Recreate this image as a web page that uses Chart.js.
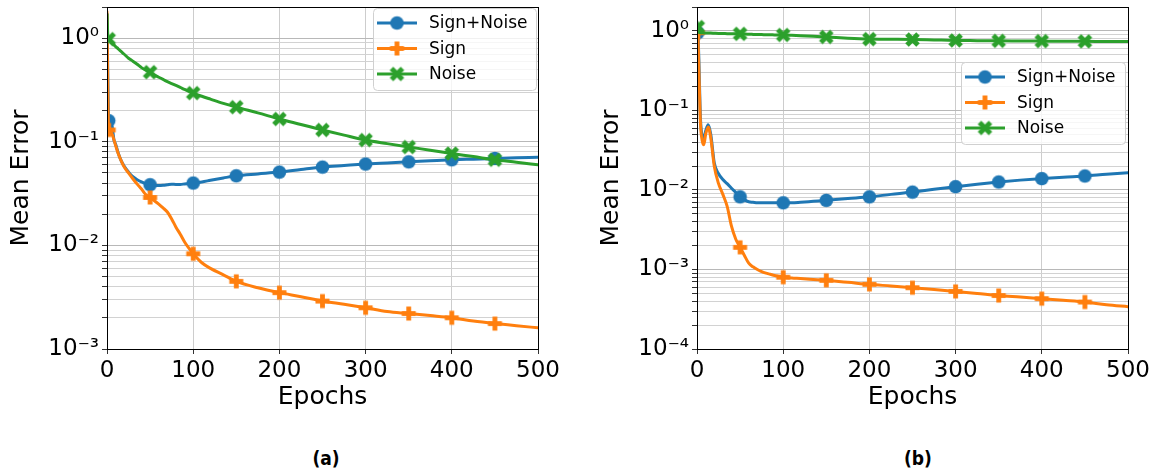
<!DOCTYPE html>
<html>
<head>
<meta charset="utf-8">
<script src="https://cdn.jsdelivr.net/npm/chart.js@4.4.1/dist/chart.umd.min.js"></script>
<style>
body { margin:0; background:#fff; width:1171px; height:475px; overflow:hidden; position:relative; font-family:"DejaVu Sans"; }
.box { position:absolute; top:0; width:585px; height:420px; }
#box_a { left:0; }
#box_b { left:590px; }
.cap { position:absolute; top:447px; font-weight:bold; font-size:19px; font-family:"DejaVu Sans Condensed","DejaVu Sans"; transform:translateX(-50%); }
</style>
</head>
<body>
<div class="box" id="box_a"><canvas id="chart_a" width="585" height="420"></canvas></div>
<div class="box" id="box_b"><canvas id="chart_b" width="585" height="420"></canvas></div>
<div class="cap" style="left:326px">(a)</div>
<div class="cap" style="left:918px">(b)</div>
<script>
// epochs sampled from the curves (same for every series)
const epochs = [0,1,2,4,6,8,10,13,16,20,25,30,35,40,45,50,55,60,65,70,75,80,85,90,95,100,110,120,135,150,175,200,225,250,275,300,325,350,375,400,425,450,475,500];

const seriesNames = ["Sign+Noise", "Sign", "Noise"];

// (a)
const signNoise_a = [1.7,0.4,0.16,0.15,0.14,0.105,0.095,0.078,0.067,0.058,0.051,0.046,0.043,0.041,0.0395,0.0385,0.038,0.0378,0.038,0.0385,0.039,0.0388,0.0388,0.0392,0.0396,0.040,0.041,0.0425,0.0448,0.047,0.049,0.051,0.054,0.057,0.059,0.061,0.0625,0.064,0.0655,0.067,0.068,0.069,0.070,0.071];
const sign_a      = [1.8,0.3,0.13,0.125,0.118,0.105,0.092,0.077,0.067,0.057,0.05,0.044,0.039,0.035,0.031,0.029,0.027,0.025,0.023,0.021,0.018,0.015,0.0128,0.0108,0.0094,0.0083,0.0068,0.006,0.0052,0.0045,0.0039,0.0035,0.0032,0.0029,0.0027,0.0025,0.0023,0.0022,0.0021,0.002,0.00186,0.00176,0.00168,0.0016];
const noise_a     = [1.7,1.05,0.98,0.93,0.89,0.86,0.83,0.79,0.75,0.7,0.64,0.6,0.56,0.52,0.49,0.47,0.44,0.42,0.4,0.38,0.365,0.35,0.335,0.32,0.307,0.295,0.275,0.258,0.235,0.216,0.19,0.166,0.147,0.13,0.116,0.104,0.096,0.089,0.083,0.077,0.072,0.067,0.0635,0.06];
const markEpochs_a = [2,50,100,150,200,250,300,350,400,450];

// (b)
const signNoise_b = [1.0,0.95,0.5,0.08,0.048,0.045,0.055,0.066,0.05,0.022,0.016,0.0135,0.012,0.0105,0.0093,0.0082,0.0075,0.0071,0.007,0.0069,0.0069,0.0069,0.0069,0.0069,0.0069,0.0069,0.0069,0.007,0.0072,0.0074,0.0078,0.0082,0.0088,0.0094,0.0102,0.011,0.0118,0.0126,0.0133,0.0139,0.0145,0.015,0.0158,0.0165];
const sign_b      = [1.1,0.95,0.4,0.07,0.042,0.037,0.05,0.062,0.045,0.02,0.012,0.0088,0.0062,0.0035,0.0024,0.0019,0.0015,0.0012,0.00108,0.001,0.00094,0.0009,0.00087,0.00084,0.00082,0.0008,0.00078,0.00077,0.00075,0.00073,0.00069,0.00065,0.00062,0.00059,0.00056,0.00053,0.0005,0.00047,0.00045,0.00043,0.00041,0.00039,0.00036,0.00034];
const noise_b     = [1.3,1.12,0.97,0.95,0.95,0.945,0.945,0.94,0.94,0.935,0.93,0.93,0.925,0.925,0.92,0.92,0.915,0.91,0.905,0.9,0.9,0.895,0.895,0.89,0.89,0.89,0.88,0.87,0.855,0.84,0.81,0.79,0.785,0.78,0.77,0.76,0.755,0.75,0.748,0.745,0.742,0.74,0.737,0.735];
const markEpochs_b = [1,50,100,150,200,250,300,350,400,450];

const colors = ["#1f77b4", "#ff7f0e", "#2ca02c"];
const sup = {"0":"⁰","1":"¹","2":"²","3":"³","4":"⁴","-":"⁻"};

// filled marker shapes (circle, thick plus, thick x) like matplotlib o, P, X
function markerImage(kind, color){
    const c = document.createElement("canvas");
    c.width = 17; c.height = 17;
    const g = c.getContext("2d");
    g.fillStyle = color;
    g.translate(8.5, 8.5);
    if (kind == "circle"){
        g.beginPath(); g.arc(0, 0, 6.8, 0, Math.PI*2); g.fill();
    } else {
        let h = 7, t = 4.8;
        if (kind == "x"){ g.rotate(Math.PI/4); h = 7.8; t = 5; }
        g.fillRect(-h, -t/2, 2*h, t);
        g.fillRect(-t/2, -h, t, 2*h);
    }
    return c;
}
const markers = [markerImage("circle", colors[0]), markerImage("plus", colors[1]), markerImage("x", colors[2])];

const frameAndLegend = {
    id: "frameAndLegend",
    afterDraw(chart, args, opts){
        const ctx = chart.ctx;
        const a = chart.chartArea;
        ctx.save();
        ctx.strokeStyle = "#000";
        ctx.lineWidth = 1;
        ctx.strokeRect(a.left + 0.5, a.top + 0.5, a.right - a.left, a.bottom - a.top);

        const x = opts.x, y = opts.y, w = opts.w, h = opts.h;
        ctx.beginPath();
        ctx.roundRect(x + 0.5, y + 0.5, w, h, 4);
        ctx.fillStyle = "rgba(255,255,255,0.8)";
        ctx.fill();
        ctx.strokeStyle = "#d0d0d0";
        ctx.stroke();
        chart.data.datasets.forEach(function(ds, i){
            const ry = y + 15 + i * 25.5;
            ctx.strokeStyle = ds.borderColor;
            ctx.lineWidth = 3;
            ctx.beginPath();
            ctx.moveTo(x + 4, ry); ctx.lineTo(x + 44, ry);
            ctx.stroke();
            ctx.drawImage(markers[i], x + 24 - 8.5, ry - 8.5);
            ctx.fillStyle = "#000";
            ctx.font = '17px "DejaVu Sans"';
            ctx.textBaseline = "middle";
            ctx.fillText(ds.label, x + 56, ry + 1);
        });
        ctx.restore();
    }
};

function isDecade(v){
    const l = Math.log10(v);
    return Math.abs(l - Math.round(l)) < 1e-9;
}

function draw_chart(id, values, markEpochs, yMin, legendBox){
    const datasets = [];
    for (let i = 0; i < 3; i++){
        let pts = [];
        for (let k = 0; k < epochs.length; k++){
            pts.push({x: epochs[k], y: values[i][k]});
        }
        datasets.push({
            label: seriesNames[i],
            data: pts,
            borderColor: colors[i],
            backgroundColor: colors[i],
            borderWidth: 3,
            cubicInterpolationMode: "monotone",
            pointStyle: markers[i],
            pointRadius: c => (c.raw && markEpochs.includes(c.raw.x)) ? 6 : 0,
            order: 3 - i,
            clip: 0
        });
    }

    const ctx = document.getElementById(id).getContext("2d");
    new Chart(ctx, {
        type: "line",
        data: { datasets: datasets },
        plugins: [frameAndLegend],
        options: {
            responsive: false,
            animation: false,
            devicePixelRatio: 1,
            layout: { padding: { top: 7, right: 47, left: 0, bottom: 0 } },
            elements: { line: { borderCapStyle: "round", borderJoinStyle: "round" } },
            plugins: {
                legend: { display: false },
                tooltip: { enabled: false },
                frameAndLegend: legendBox
            },
            scales: {
                x: {
                    type: "linear",
                    min: 0, max: 500,
                    afterFit: s => { s.height = 71; },
                    ticks: { stepSize: 100, color: "#000", font: { size: 23, family: "DejaVu Sans" }, padding: 3, maxRotation: 0 },
                    grid: { color: "#cdcdcd", lineWidth: 1, tickLength: 5, tickColor: "#333" },
                    border: { color: "#000", width: 1 },
                    title: { display: true, text: "Epochs", color: "#000", font: { size: 25, family: "DejaVu Sans" }, padding: { top: 0, bottom: 8 } }
                },
                y: {
                    type: "logarithmic",
                    min: yMin, max: 2,
                    afterFit: s => { s.width = 107; s.paddingTop = 0; s.paddingBottom = 0; },
                    afterBuildTicks: s => {
                        const t = [];
                        for (let e = Math.floor(Math.log10(s.min)); e <= Math.ceil(Math.log10(s.max)); e++){
                            for (let m = 1; m < 10; m++){
                                const v = m * Math.pow(10, e);
                                if (v >= s.min * 0.999 && v <= s.max * 1.001) t.push({ value: v });
                            }
                        }
                        s.ticks = t;
                    },
                    ticks: {
                        autoSkip: false,
                        color: "#000",
                        font: { size: 23, family: "DejaVu Sans" },
                        padding: 3,
                        callback: v => {
                            if (!isDecade(v)) return "";
                            const e = String(Math.round(Math.log10(v)));
                            return "10" + e.split("").map(ch => sup[ch]).join("");
                        }
                    },
                    grid: {
                        color: c => (c.tick && isDecade(c.tick.value)) ? "#b8b8b8" : "#d2d2d2",
                        lineWidth: 1,
                        tickLength: 5,
                        tickColor: "#333"
                    },
                    border: { color: "#000", width: 1 },
                    title: { display: true, text: "Mean Error", color: "#000", font: { size: 25, family: "DejaVu Sans" }, padding: { top: 6, bottom: 0 } }
                }
            }
        }
    });
}

window.addEventListener("load", function(){
    draw_chart("chart_a", [signNoise_a, sign_a, noise_a], markEpochs_a, 0.001, { x: 373, y: 8, w: 163, h: 82 });
    draw_chart("chart_b", [signNoise_b, sign_b, noise_b], markEpochs_b, 0.0001, { x: 371, y: 62, w: 164, h: 82 });
});
</script>
</body>
</html>
